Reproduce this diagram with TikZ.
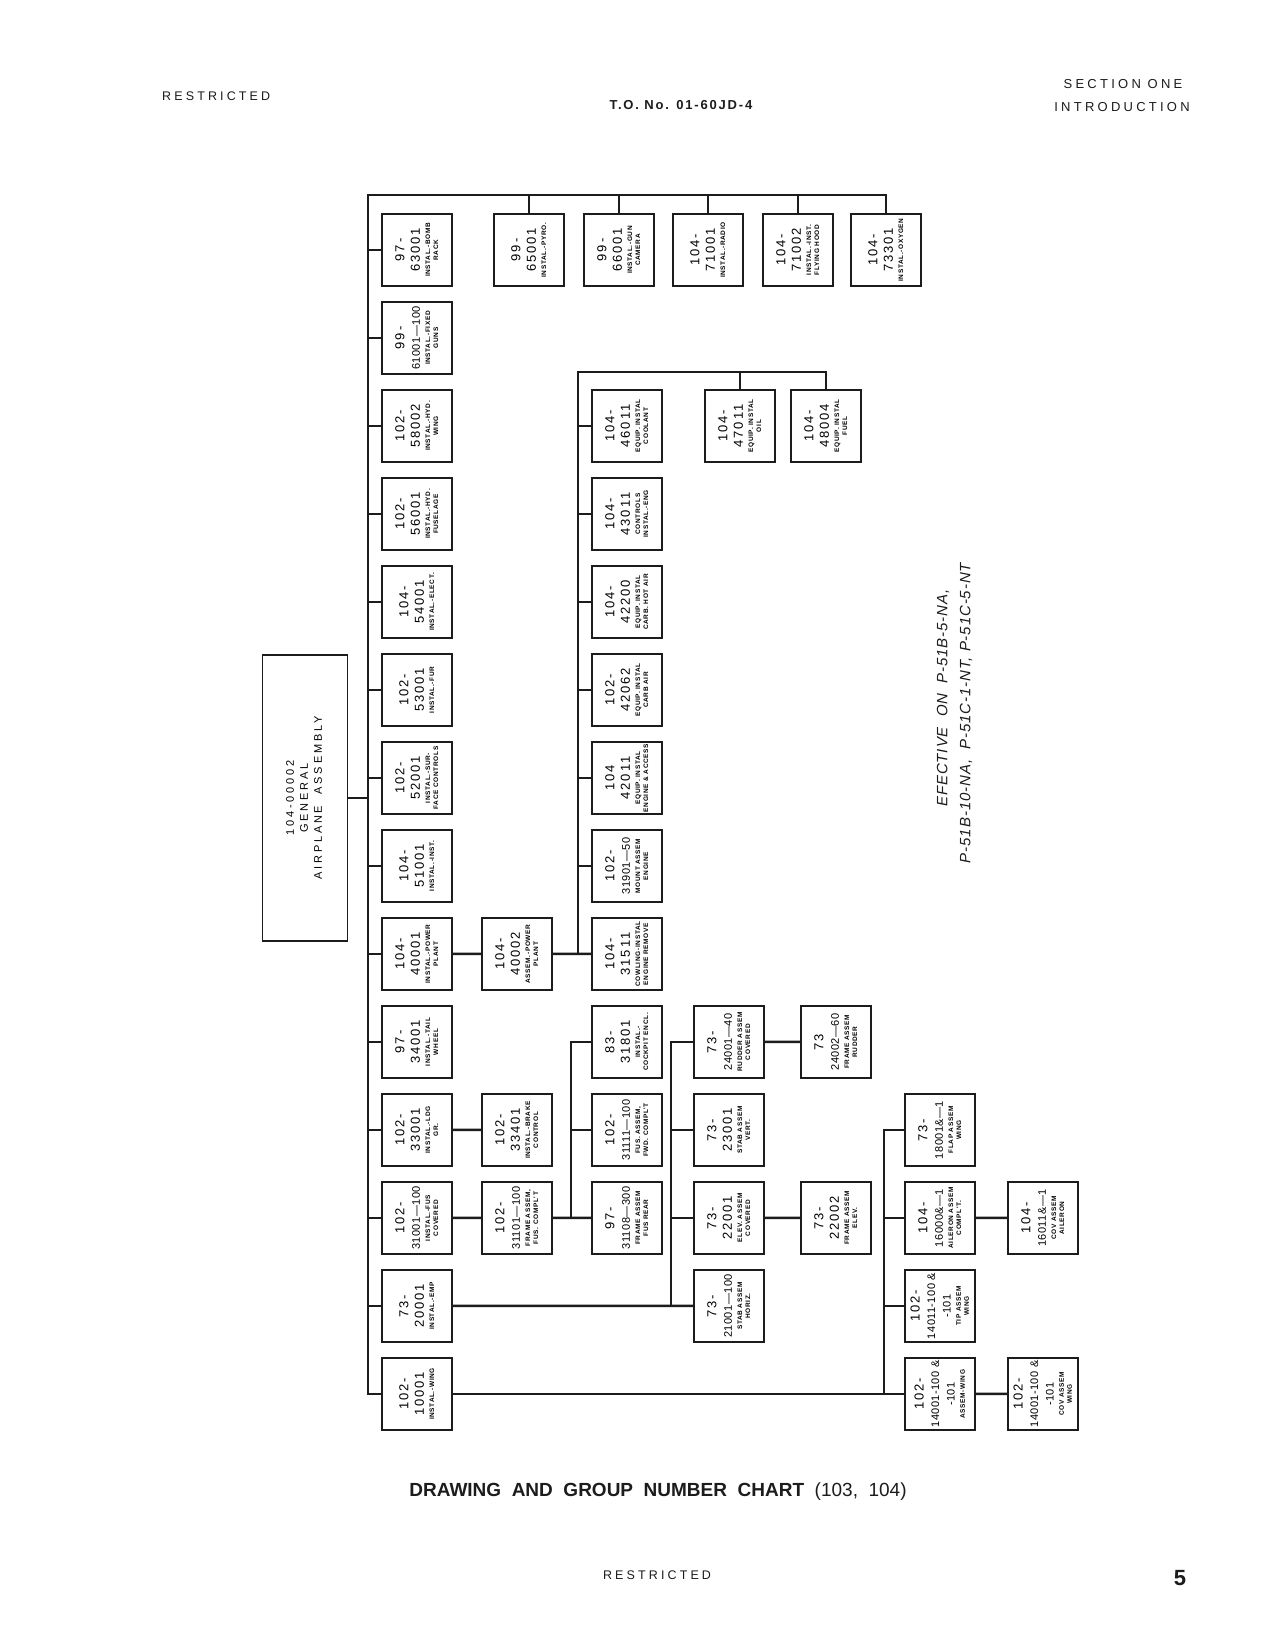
\documentclass[tikz,border=0pt]{standalone}
\usepackage{fontspec}
\usepackage{graphicx}
\setmainfont{Liberation Sans}
\newfontfamily\numfam[LetterSpace=15]{Liberation Sans}
\newfontfamily\numlongfam[LetterSpace=4]{Liberation Sans}
\newfontfamily\capfam[LetterSpace=10]{Liberation Sans}
\newfontfamily\hdrfam[LetterSpace=25]{Liberation Sans}
\newfontfamily\tofam[LetterSpace=14]{Liberation Sans}
\newfontfamily\efffam[LetterSpace=6]{Liberation Sans}
\definecolor{inkBlack}{HTML}{1C1C1C}

\newcommand{\numfnt}{\numfam\fontsize{13}{15.5}\selectfont}
\newcommand{\numlong}{\numlongfam\fontsize{11}{15.5}\selectfont}
\newcommand{\capfnt}{\capfam\bfseries\fontsize{6.5}{8}\selectfont}
\newcommand{\partlbl}[2]{\rotatebox{90}{\renewcommand{\arraystretch}{0}%
  \begin{tabular}{@{}c@{}}
    {\numfnt\renewcommand{\arraystretch}{1}\begin{tabular}{@{}c@{}}#1\end{tabular}}\\
    {\capfnt\renewcommand{\arraystretch}{1}\begin{tabular}{@{}c@{}}#2\end{tabular}}
  \end{tabular}}}

\begin{document}
\begin{tikzpicture}[
    x=1pt, y=-1pt, scale=0.48, transform shape,
    part/.style={rectangle, draw=inkBlack, line width=0.7pt, fill=white,
                 minimum width=70pt, minimum height=72pt, inner sep=0pt},
    genbox/.style={rectangle, draw=inkBlack, line width=0.7pt,
                 minimum width=85pt, minimum height=286pt, inner sep=0pt},
    bus/.style={draw=inkBlack, line width=1.2pt},
    hdr/.style={inner sep=0pt, text=inkBlack,
                font=\hdrfam\fontsize{12.5}{14}\selectfont},
    eff/.style={rotate=90, inner sep=0pt, text=inkBlack,
                font=\efffam\itshape\fontsize{15}{17}\selectfont},
  ]
    \useasboundingbox[fill=white] (0,0) rectangle (1275,1650);

    % Header
    \node[hdr, anchor=west] (hdrL) at (162,96) {RESTRICTED};
    \node[hdr, font=\tofam\bfseries\fontsize{13}{15}\selectfont] (hdrC) at (681,105) {T.O. No. 01-60JD-4};
    \node[hdr, font=\hdrfam\fontsize{13}{15}\selectfont] (hdrR1) at (1123,84) {SECTION ONE};
    \node[hdr, font=\hdrfam\fontsize{13}{15}\selectfont] (hdrR2) at (1122,107) {INTRODUCTION};

    % General assembly
    \node[genbox] (gen) at (305,798) {\rotatebox{90}{\hdrfam\fontsize{11}{14}\selectfont
      \begin{tabular}{@{}c@{}}104-00002\\GENERAL\\AIRPLANE\ \ ASSEMBLY\end{tabular}}};

    % Column 1
    \node[part] (p63001) at (417,250) {\partlbl{97-\\63001}{INSTAL.-BOMB\\RACK}};
    \node[part] (p61001) at (417,338) {\partlbl{99-\\\numlong 61001—100}{INSTAL.-FIXED\\GUNS}};
    \node[part] (p58002) at (417,426) {\partlbl{102-\\58002}{INSTAL.-HYD.\\WING}};
    \node[part] (p56001) at (417,514) {\partlbl{102-\\56001}{INSTAL.-HYD.\\FUSELAGE}};
    \node[part] (p54001) at (417,602) {\partlbl{104-\\54001}{INSTAL.-ELECT.}};
    \node[part] (p53001) at (417,690) {\partlbl{102-\\53001}{INSTAL.-FUR}};
    \node[part] (p52001) at (417,778) {\partlbl{102-\\52001}{INSTAL.-SUR-\\FACE CONTROLS}};
    \node[part] (p51001) at (417,866) {\partlbl{104-\\51001}{INSTAL.-INST.}};
    \node[part] (p40001) at (417,954) {\partlbl{104-\\40001}{INSTAL.-POWER\\PLANT}};
    \node[part] (p34001) at (417,1042) {\partlbl{97-\\34001}{INSTAL.-TAIL\\WHEEL}};
    \node[part] (p33001) at (417,1130) {\partlbl{102-\\33001}{INSTAL.-LDG\\GR.}};
    \node[part] (p31001) at (417,1218) {\partlbl{102-\\\numlong 31001—100}{INSTAL.-FUS\\COVERED}};
    \node[part] (p20001) at (417,1306) {\partlbl{73-\\20001}{INSTAL.-EMP}};
    \node[part] (p10001) at (417,1394) {\partlbl{102-\\10001}{INSTAL.-WING}};

    % Top row
    \node[part] (p65001) at (529,250) {\partlbl{99-\\65001}{INSTAL.-PYRO.}};
    \node[part] (p66001) at (619,250) {\partlbl{99-\\66001}{INSTAL.-GUN\\CAMERA}};
    \node[part] (p71001) at (708,250) {\partlbl{104-\\71001}{INSTAL.-RADIO}};
    \node[part] (p71002) at (798,250) {\partlbl{104-\\71002}{INSTAL.-INST.\\FLYING HOOD}};
    \node[part] (p73301) at (886,250) {\partlbl{104-\\73301}{INSTAL.-OXYGEN}};

    % Power plant
    \node[part] (p40002) at (517,954) {\partlbl{104-\\40002}{ASSEM.-POWER\\PLANT}};
    \node[part] (p46011) at (627,426) {\partlbl{104-\\46011}{EQUIP. INSTAL\\COOLANT}};
    \node[part] (p43011) at (627,514) {\partlbl{104-\\43011}{CONTROLS\\INSTAL.-ENG}};
    \node[part] (p42200) at (627,602) {\partlbl{104-\\42200}{EQUIP. INSTAL\\CARB. HOT AIR}};
    \node[part] (p42062) at (627,690) {\partlbl{102-\\42062}{EQUIP. INSTAL\\CARB AIR}};
    \node[part] (p42011) at (627,778) {\partlbl{104\\42011}{EQUIP. INSTAL\\ENGINE \& ACCESS}};
    \node[part] (p31901) at (627,866) {\partlbl{102-\\\numlong 31901—50}{MOUNT ASSEM\\ENGINE}};
    \node[part] (p31511) at (627,954) {\partlbl{104-\\31511}{COWLING-INSTAL\\ENGINE REMOVE}};
    \node[part] (p47011) at (740,426) {\partlbl{104-\\47011}{EQUIP. INSTAL\\OIL}};
    \node[part] (p48004) at (826,426) {\partlbl{104-\\48004}{EQUIP. INSTAL\\FUEL}};

    % Fuselage
    \node[part] (p33401) at (517,1130) {\partlbl{102-\\33401}{INSTAL.-BRAKE\\CONTROL}};
    \node[part] (p31101) at (517,1218) {\partlbl{102-\\\numlong 31101—100}{FRAME ASSEM,\\FUS. COMPL'T}};
    \node[part] (p31801) at (627,1042) {\partlbl{83-\\31801}{INSTAL.-\\COCKPIT ENCL.}};
    \node[part] (p31111) at (627,1130) {\partlbl{102-\\\numlong 31111—100}{FUS. ASSEM,\\FWD. COMPL'T}};
    \node[part] (p31108) at (627,1218) {\partlbl{97-\\\numlong 31108—300}{FRAME ASSEM\\FUS REAR}};

    % Empennage
    \node[part] (p24001) at (729,1042) {\partlbl{73-\\\numlong 24001—40}{RUDDER ASSEM\\COVERED}};
    \node[part] (p23001) at (729,1130) {\partlbl{73-\\23001}{STAB ASSEM\\VERT.}};
    \node[part] (p22001) at (729,1218) {\partlbl{73-\\22001}{ELEV. ASSEM\\COVERED}};
    \node[part] (p21001) at (729,1306) {\partlbl{73-\\\numlong 21001—100}{STAB ASSEM\\HORIZ.}};
    \node[part] (p24002) at (836,1042) {\partlbl{73\\\numlong 24002—60}{FRAME ASSEM\\RUDDER}};
    \node[part] (p22002) at (836,1218) {\partlbl{73-\\22002}{FRAME ASSEM\\ELEV.}};

    % Wing
    \node[part] (p18001) at (940,1130) {\partlbl{73-\\\numlong 18001\&—1}{FLAP ASSEM\\WING}};
    \node[part] (p16000) at (940,1218) {\partlbl{104-\\\numlong 16000\&—1}{AILERON ASSEM\\COMPL'T.}};
    \node[part] (p14011) at (940,1306) {\partlbl{102-\\\numlong 14011-100 \&\\\numlong -101}{TIP ASSEM\\WING}};
    \node[part] (p14001) at (940,1394) {\partlbl{102-\\\numlong 14001-100 \&\\\numlong -101}{ASSEM-WING}};
    \node[part] (p16001) at (1043,1218) {\partlbl{104-\\\numlong 16011\&—1}{COV ASSEM\\AILERON}};
    \node[part] (p14001c) at (1043,1394) {\partlbl{102-\\\numlong 14001-100 \&\\\numlong -101}{COV ASSEM\\WING}};

    % Main bus
    \coordinate (busA) at (368,195);
    \draw[bus] (p10001.west) -| (busA) -| (p73301.north);
    \foreach \n in {p65001,p66001,p71001,p71002}
      \draw[bus] (\n.north) -- (\n.north |- busA);
    \foreach \n in {p63001,p61001,p58002,p56001,p54001,p53001,p52001,
                    p51001,p40001,p34001,p33001,p31001,p20001}
      \draw[bus] (\n.west) -- (\n.west -| busA);
    \draw[bus] (gen.east) -- (gen.east -| busA);

    % Power plant bus
    \coordinate (busB) at (578,372);
    \draw[bus] (p40001) -- (p40002);
    \draw[bus] (p40002) -- (p31511);
    \draw[bus] (p31511.west -| busB) -- (busB) -| (p48004.north);
    \draw[bus] (p47011.north) -- (p47011.north |- busB);
    \foreach \n in {p46011,p43011,p42200,p42062,p42011,p31901}
      \draw[bus] (\n.west) -- (\n.west -| busB);

    % Fuselage bus
    \coordinate (busC) at (571,1218);
    \draw[bus] (p33001) -- (p33401);
    \draw[bus] (p31001) -- (p31101);
    \draw[bus] (p31101) -- (p31108);
    \draw[bus] (p31801.west) -| (busC);
    \draw[bus] (p31111.west) -- (p31111.west -| busC);

    % Empennage bus
    \coordinate (busD) at (671,1306);
    \draw[bus] (p20001) -- (p21001);
    \draw[bus] (p24001.west) -| (busD);
    \foreach \n in {p23001,p22001}
      \draw[bus] (\n.west) -- (\n.west -| busD);
    \draw[bus] (p24001) -- (p24002);
    \draw[bus] (p22001) -- (p22002);

    % Wing bus
    \coordinate (busE) at (884,1394);
    \draw[bus] (p10001) -- (p14001);
    \draw[bus] (p18001.west) -| (busE);
    \foreach \n in {p16000,p14011}
      \draw[bus] (\n.west) -- (\n.west -| busE);
    \draw[bus] (p16000) -- (p16001);
    \draw[bus] (p14001) -- (p14001c);

    % Effectivity
    \node[eff] (eff1) at (943,698) {EFECTIVE\ \ ON\ \ P-51B-5-NA,};
    \node[eff] (eff2) at (966,713) {P-51B-10-NA,\ \ P-51C-1-NT,\ P-51C-5-NT};

    % Caption and footer
    \node[inner sep=0pt, text=inkBlack, font=\fontsize{19}{22}\selectfont] (caption) at (658,1492)
      {\textbf{DRAWING\ \ AND\ \ GROUP\ \ NUMBER\ \ CHART}\ \ (103,\ \ 104)};
    \node[hdr] (ftrL) at (657,1575) {RESTRICTED};
    \node[inner sep=0pt, text=inkBlack, font=\bfseries\fontsize{22}{24}\selectfont] (pageno) at (1180,1578) {5};
\end{tikzpicture}
\end{document}
